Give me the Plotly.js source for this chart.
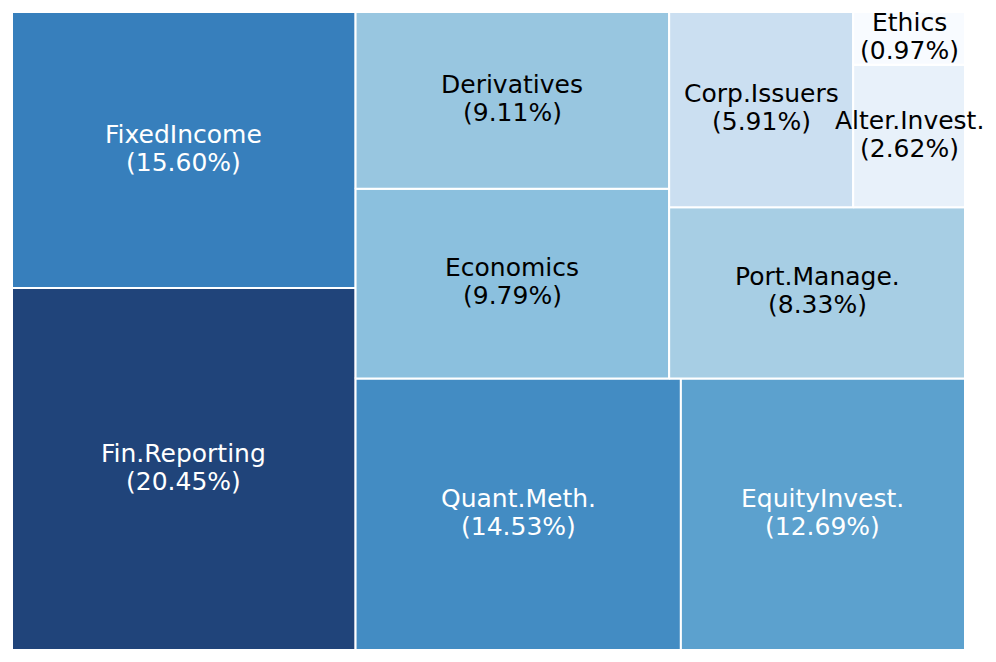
<!DOCTYPE html>
<html>
<head>
<meta charset="utf-8">
<script src="https://cdn.plot.ly/plotly-3.0.1.min.js"></script>
<style>
  html, body { margin: 0; padding: 0; background: #ffffff; }
  #chart { width: 996px; height: 662px; }
</style>
</head>
<body>
<div id="chart"></div>
<script>
// topic weights, sorted largest first (squarify order)
const topics = ["Fin.Reporting", "FixedIncome", "Quant.Meth.", "EquityInvest.", "Economics",
                "Derivatives", "Port.Manage.", "Corp.Issuers", "Alter.Invest.", "Ethics"];
const shares = [20.45, 15.60, 14.53, 12.69, 9.79, 9.11, 8.33, 5.91, 2.62, 0.97];

// matplotlib "Blues"
const blues = [
  [247, 251, 255], [222, 235, 247], [198, 219, 239], [158, 202, 225], [107, 174, 214],
  [66, 146, 198], [33, 113, 181], [8, 81, 156], [8, 48, 107]
];

function bluesColor(t, alpha) {
  let p = Math.max(0, Math.min(1, t)) * (blues.length - 1);
  let i = Math.min(Math.floor(p), blues.length - 2);
  let f = p - i;
  let c = blues[i].map((v, k) => Math.round(v + (blues[i + 1][k] - v) * f));
  return `rgba(${c[0]},${c[1]},${c[2]},${alpha})`;
}

// =========================
// SQUARIFY (same as python squarify)
// =========================

function layoutRow(sizes, x, y, dx, dy) {
  let width = sizes.reduce((a, b) => a + b, 0) / dy;
  let rects = [];
  for (let s of sizes) {
    rects.push({ x: x, y: y, dx: width, dy: s / width });
    y += s / width;
  }
  return rects;
}

function layoutCol(sizes, x, y, dx, dy) {
  let height = sizes.reduce((a, b) => a + b, 0) / dx;
  let rects = [];
  for (let s of sizes) {
    rects.push({ x: x, y: y, dx: s / height, dy: height });
    x += s / height;
  }
  return rects;
}

function layout(sizes, x, y, dx, dy) {
  return dx >= dy ? layoutRow(sizes, x, y, dx, dy) : layoutCol(sizes, x, y, dx, dy);
}

function leftover(sizes, x, y, dx, dy) {
  let area = sizes.reduce((a, b) => a + b, 0);
  if (dx >= dy) {
    let w = area / dy;
    return [x + w, y, dx - w, dy];
  }
  let h = area / dx;
  return [x, y + h, dx, dy - h];
}

function worstRatio(sizes, x, y, dx, dy) {
  return Math.max(...layout(sizes, x, y, dx, dy).map(r => Math.max(r.dx / r.dy, r.dy / r.dx)));
}

function squarify(sizes, x, y, dx, dy) {
  if (sizes.length === 0) return [];
  if (sizes.length === 1) return layout(sizes, x, y, dx, dy);
  let i = 1;
  while (i < sizes.length &&
         worstRatio(sizes.slice(0, i), x, y, dx, dy) >= worstRatio(sizes.slice(0, i + 1), x, y, dx, dy)) {
    i++;
  }
  let current = sizes.slice(0, i);
  let rest = sizes.slice(i);
  let lo = leftover(current, x, y, dx, dy);
  return layout(current, x, y, dx, dy).concat(squarify(rest, lo[0], lo[1], lo[2], lo[3]));
}

const total = shares.reduce((a, b) => a + b, 0);
const normSizes = shares.map(v => v * 100 * 100 / total);
const rects = squarify(normSizes, 0, 0, 100, 100);

const vmin = Math.min(...shares);
const vmax = Math.max(...shares);

let traces = [];
let annotations = [];

rects.forEach((r, i) => {
  let t = (shares[i] - vmin) / (vmax - vmin);
  traces.push({
    x: [r.x, r.x + r.dx, r.x + r.dx, r.x, r.x],
    y: [r.y, r.y, r.y + r.dy, r.y + r.dy, r.y],
    type: 'scatter',
    mode: 'lines',
    fill: 'toself',
    fillcolor: bluesColor(t, 0.9),
    line: { color: 'white', width: 2 },
    hoverinfo: 'skip'
  });

  let txtColor = t > 0.5 ? 'white' : 'black';
  let cx = r.x + r.dx / 2;
  let cy = r.y + r.dy / 2;

  annotations.push({
    x: cx, y: cy, xref: 'x', yref: 'y',
    text: topics[i], showarrow: false, yshift: 16,
    font: { family: 'DejaVu Sans', size: 25, color: txtColor }
  });
  annotations.push({
    x: cx, y: cy, xref: 'x', yref: 'y',
    text: `(${shares[i].toFixed(2)}%)`, showarrow: false, yshift: -12,
    font: { family: 'DejaVu Sans', size: 25, color: txtColor }
  });
});

Plotly.newPlot('chart', traces, {
  width: 996,
  height: 662,
  margin: { l: 12, r: 31, t: 12, b: 12 },
  paper_bgcolor: 'white',
  plot_bgcolor: 'white',
  showlegend: false,
  xaxis: { range: [0, 100], visible: false, fixedrange: true },
  yaxis: { range: [0, 100], visible: false, fixedrange: true },
  annotations: annotations
}, { staticPlot: true });
</script>
</body>
</html>
